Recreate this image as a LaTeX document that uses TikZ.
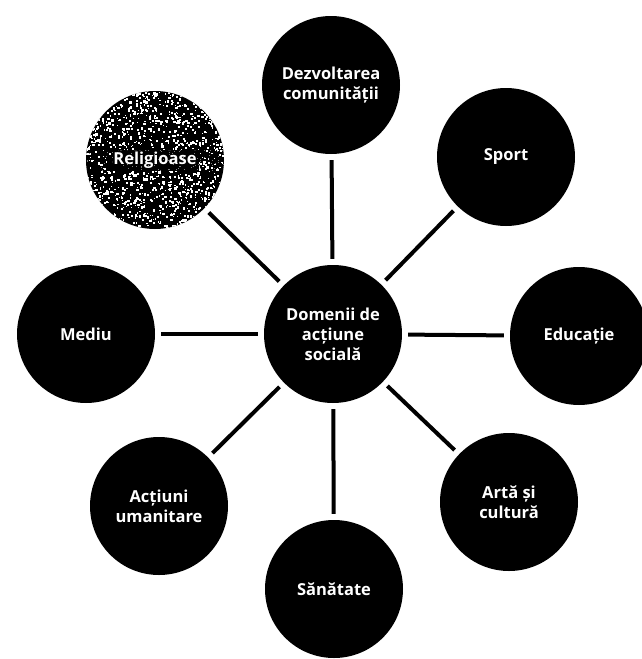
\documentclass[tikz,border=0pt]{standalone}
\usepackage{fontspec}
\setmainfont{Open Sans}
\begin{document}
\begin{tikzpicture}[x=1pt,y=-1pt,
  blob/.style={circle, fill=black, minimum size=138pt, inner sep=0pt, align=center,
    text=white, font=\bfseries\fontsize{16.5}{20}\selectfont},
  link/.style={line width=4pt, shorten <=6pt, shorten >=6pt}]
\useasboundingbox (0,0) rectangle (641,659);
% textured circle
\fill[black] (155,160) circle (69);
\begin{scope}[even odd rule]
  \clip (155,160) circle (69) (112,150) rectangle (199,171);
  \pgfmathsetseed{7}
  \foreach \i in {1,...,1300}{
    \pgfmathsetmacro\rx{155+69*rand}
    \pgfmathsetmacro\ry{160+69*rand}
    \pgfmathsetmacro\sz{1+1.5*rnd}
    \fill[white] (\rx,\ry) rectangle ++(\sz,\sz);
  }
\end{scope}
\begin{scope}
  \clip (155,160) circle (69);
  \pgfmathsetseed{11}
  \foreach \i in {1,...,90}{
    \pgfmathsetmacro\rx{155+69*rand}
    \pgfmathsetmacro\ry{160.5+11*rand}
    \fill[gray] (\rx,\ry) rectangle ++(1,1);
  }
\end{scope}
\node[blob] (c) at (333,334) {Domenii de\\acțiune\\socială};
\node[blob] (top) at (331,85) {Dezvoltarea\\comunității};
\node[blob] (sport) at (506,157) {Sport};
\node[blob] (edu) at (579,336) {Educație};
\node[blob] (arta) at (509,502) {Artă și\\cultură};
\node[blob] (san) at (334,589) {Sănătate};
\node[blob] (act) at (159,506) {Acțiuni\\umanitare};
\node[blob] (med) at (86,334) {Mediu};
\node[blob, fill=none] (rel) at (155,160) {Religioase};
\foreach \n in {top,sport,edu,arta,san,act,med,rel}{
  \draw[link] (c) -- (\n);
}
\end{tikzpicture}
\end{document}
